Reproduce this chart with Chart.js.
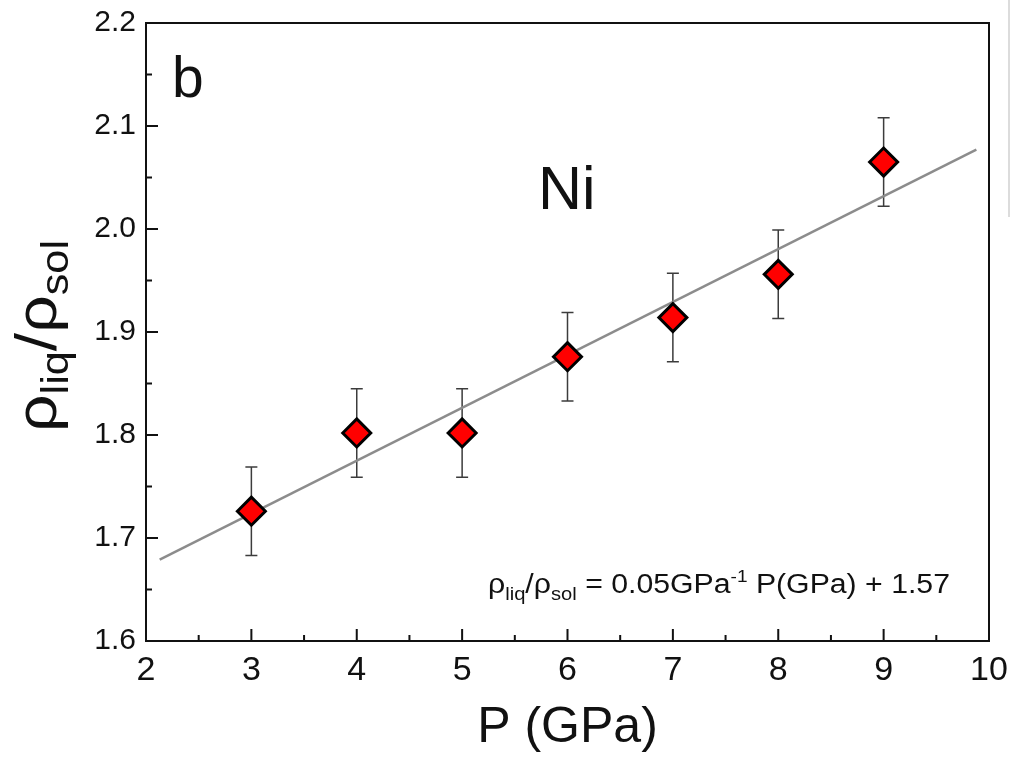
<!DOCTYPE html>
<html><head><meta charset="utf-8">
<script src="https://cdn.jsdelivr.net/npm/chart.js@4/dist/chart.umd.min.js"></script>
<style>
html,body{margin:0;padding:0;background:#fff;overflow:hidden}
#wrap{position:relative;width:1011px;height:763px}
#edge{position:absolute;left:1008px;top:0;width:2px;height:217px;background:#dcdcdc}
</style></head>
<body><div id="wrap"><canvas id="c" width="1011" height="763"></canvas><div id="edge"></div></div>
<script>
const pressure = [3, 4, 5, 6, 7, 8, 9];
const densityRatio = [1.726, 1.802, 1.802, 1.876, 1.914, 1.956, 2.065];
const ratioError = [0.043, 0.043, 0.043, 0.043, 0.043, 0.043, 0.043];
const fitX = [2.13, 9.88];
const fitY = [1.679, 2.077];
const xTickValues = [2, 3, 4, 5, 6, 7, 8, 9, 10];
const xTickLabels = ['2', '3', '4', '5', '6', '7', '8', '9', '10'];
const yTickValues = [1.6, 1.7, 1.8, 1.9, 2.0, 2.1, 2.2];
const yTickLabels = ['1.6', '1.7', '1.8', '1.9', '2.0', '2.1', '2.2'];
const xMinorTicks = [2.5, 3.5, 4.5, 5.5, 6.5, 7.5, 8.5, 9.5];
const yMinorTicks = [1.65, 1.75, 1.85, 1.95, 2.05, 2.15];

const FONT = "'Liberation Sans', Arial, Helvetica, sans-serif";

function richWidth(ctx, segs) {
  let w = 0;
  for (const s of segs) { ctx.font = s.size + 'px ' + FONT; w += ctx.measureText(s.t).width; }
  return w;
}
function drawRich(ctx, segs, x, y, targetW) {
  const w = richWidth(ctx, segs);
  const k = targetW ? targetW / w : 1;
  ctx.save();
  ctx.translate(x, y);
  ctx.scale(k, 1);
  let cx = 0;
  for (const s of segs) {
    ctx.font = s.size + 'px ' + FONT;
    ctx.fillText(s.t, cx, (s.dy || 0));
    cx += ctx.measureText(s.t).width;
  }
  ctx.restore();
}

const decor = {
  id: 'decor',
  beforeDatasetsDraw(chart) {
    const ctx = chart.ctx, xs = chart.scales.x, ys = chart.scales.y;
    ctx.save();
    ctx.strokeStyle = '#3c3c3c';
    ctx.lineWidth = 1.5;
    pressure.forEach((p, i) => {
      const px = xs.getPixelForValue(p);
      const top = ys.getPixelForValue(densityRatio[i] + ratioError[i]);
      const bot = ys.getPixelForValue(densityRatio[i] - ratioError[i]);
      ctx.beginPath();
      ctx.moveTo(px, top); ctx.lineTo(px, bot);
      ctx.moveTo(px - 6, top); ctx.lineTo(px + 6, top);
      ctx.moveTo(px - 6, bot); ctx.lineTo(px + 6, bot);
      ctx.stroke();
    });
    ctx.restore();
  },
  afterDatasetsDraw(chart) {
    const ctx = chart.ctx, a = chart.chartArea, xs = chart.scales.x, ys = chart.scales.y;
    ctx.save();
    ctx.strokeStyle = '#111';
    ctx.lineWidth = 2;
    ctx.strokeRect(a.left, a.top, a.right - a.left, a.bottom - a.top);
    ctx.beginPath();
    xTickValues.forEach(v => { const p = xs.getPixelForValue(v); ctx.moveTo(p, a.bottom); ctx.lineTo(p, a.bottom - 12); });
    xMinorTicks.forEach(v => { const p = xs.getPixelForValue(v); ctx.moveTo(p, a.bottom); ctx.lineTo(p, a.bottom - 6); });
    yTickValues.forEach(v => { const p = ys.getPixelForValue(v); ctx.moveTo(a.left, p); ctx.lineTo(a.left + 12, p); });
    yMinorTicks.forEach(v => { const p = ys.getPixelForValue(v); ctx.moveTo(a.left, p); ctx.lineTo(a.left + 6, p); });
    ctx.stroke();
    ctx.restore();
  },
  afterDraw(chart) {
    const ctx = chart.ctx, a = chart.chartArea;
    ctx.save();
    ctx.fillStyle = '#111';
    ctx.textBaseline = 'alphabetic';
    ctx.textAlign = 'left';
    ctx.font = '57px ' + FONT;
    ctx.fillText('b', 172, 97);
    ctx.font = '61px ' + FONT;
    ctx.fillText('Ni', 538, 209);
    ctx.font = '50px ' + FONT;
    ctx.textAlign = 'center';
    ctx.fillText('P (GPa)', (a.left + a.right) / 2, 742);
    ctx.textAlign = 'left';
    const eq = [
      {t: 'ρ', size: 27}, {t: 'liq', size: 18, dy: 7}, {t: '/ρ', size: 27}, {t: 'sol', size: 18, dy: 7},
      {t: ' = 0.05GPa', size: 27}, {t: '-1', size: 17, dy: -11}, {t: ' P(GPa) + 1.57', size: 27}
    ];
    drawRich(ctx, eq, 488, 593, 462);
    const yt = [
      {t: 'ρ', size: 58}, {t: 'liq', size: 38, dy: 12}, {t: '/', size: 58}, {t: 'ρ', size: 58}, {t: 'sol', size: 38, dy: 12}
    ];
    ctx.translate(56, 0);
    ctx.rotate(-Math.PI / 2);
    drawRich(ctx, yt, -432, 0, 192);
    ctx.restore();
  }
};

new Chart(document.getElementById('c'), {
  data: {
    datasets: [
      {
        type: 'scatter',
        data: pressure.map((p, i) => ({x: p, y: densityRatio[i]})),
        pointStyle: 'rectRot',
        pointRadius: 14,
        pointHoverRadius: 14,
        backgroundColor: '#ff0000',
        borderColor: '#000',
        borderWidth: 3
      },
      {
        type: 'line',
        data: fitX.map((x, i) => ({x: x, y: fitY[i]})),
        borderColor: '#8c8c8c',
        borderWidth: 2.5,
        pointRadius: 0,
        fill: false
      }
    ]
  },
  options: {
    responsive: false,
    animation: false,
    devicePixelRatio: 1,
    layout: {padding: {left: 0, right: 22, top: 23, bottom: 0}},
    plugins: {legend: {display: false}, tooltip: {enabled: false}},
    scales: {
      x: {
        type: 'linear', position: 'bottom', min: 2, max: 10,
        grid: {display: false, drawTicks: false},
        border: {display: false},
        afterBuildTicks: s => { s.ticks = xTickValues.map(v => ({value: v})); },
        afterFit: s => { s.height = 122; s.paddingLeft = 0; s.paddingRight = 0; },
        ticks: {
          autoSkip: false, maxRotation: 0, padding: 9, color: '#111',
          font: {family: FONT, size: 34},
          callback: v => xTickLabels[xTickValues.indexOf(v)]
        }
      },
      y: {
        type: 'linear', min: 1.6, max: 2.2,
        grid: {display: false, drawTicks: false},
        border: {display: false},
        afterBuildTicks: s => { s.ticks = yTickValues.map(v => ({value: v})); },
        afterFit: s => { s.width = 146; s.paddingTop = 0; s.paddingBottom = 0; },
        ticks: {
          autoSkip: false, padding: 10, color: '#111',
          font: {family: FONT, size: 30},
          callback: v => { const i = yTickValues.findIndex(t => Math.abs(t - v) < 1e-9); return yTickLabels[i]; }
        }
      }
    }
  },
  plugins: [decor]
});
</script>
</body></html>
